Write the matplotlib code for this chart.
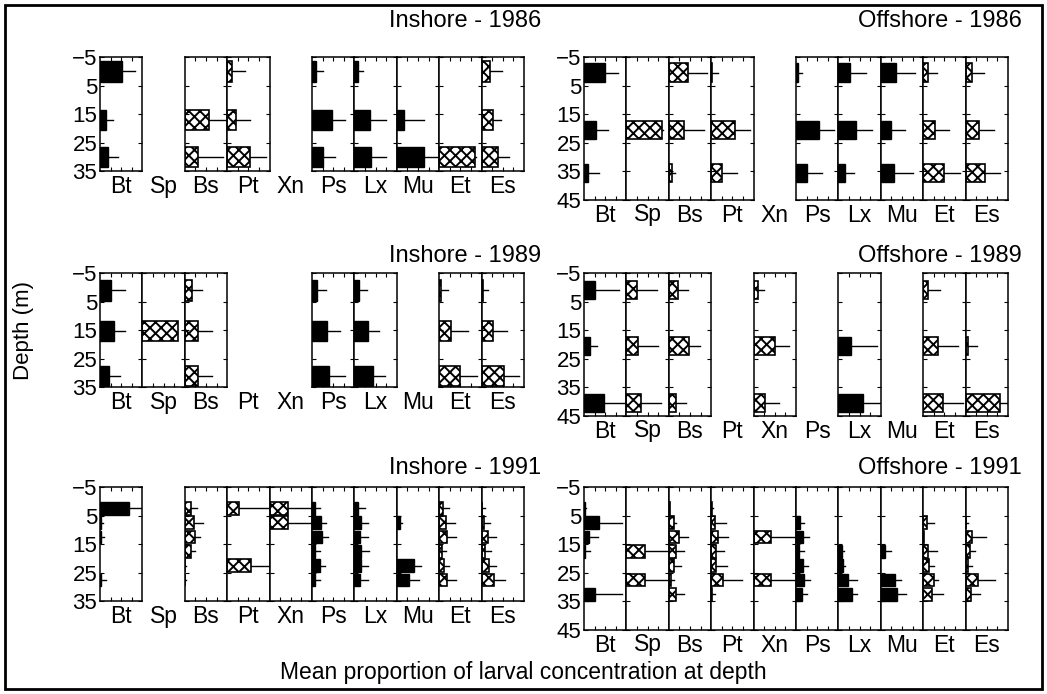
import matplotlib
matplotlib.use("Agg")
import matplotlib.pyplot as plt
from matplotlib.patches import Rectangle

plt.rcParams['font.family'] = ['Liberation Sans', 'DejaVu Sans']
plt.rcParams['hatch.linewidth'] = 1.4

species = ["Bt", "Sp", "Bs", "Pt", "Xn", "Ps", "Lx", "Mu", "Et", "Es"]
solid = ["Bt", "Ps", "Lx", "Mu"]

# ---- Inshore 1986 (None = species not caught, no panel)
in86_depth = [0, 17, 30]
in86_mean = [[0.51, 0.13, 0.18], None, [0, 0.58, 0.30], [0.12, 0.20, 0.53], None,
             [0.10, 0.46, 0.27], [0.08, 0.37, 0.39], [0, 0.17, 0.65], [0, 0, 0.84],
             [0.20, 0.28, 0.38]]
in86_upper = [[0.82, 0.30, 0.43], None, [0, 0.98, 0.91], [0.41, 0.53, 0.91], None,
              [0.27, 0.77, 0.54], [0.20, 0.75, 0.74], [0, 0.63, 0.97], [0, 0, 0.86],
              [0.47, 0.45, 0.65]]

# ---- Offshore 1986
off86_depth = [0.5, 20.5, 35.5]
off86_mean = [[0.49, 0.28, 0.10], [0, 0.84, 0], [0.45, 0.37, 0.07], [0.03, 0.56, 0.25], None,
              [0.04, 0.54, 0.27], [0.28, 0.41, 0.16], [0.35, 0.23, 0.31], [0.12, 0.27, 0.50],
              [0.14, 0.31, 0.45]]
off86_upper = [[0.80, 0.57, 0.36], [0, 0.86, 0], [0.91, 0.82, 0.15], [0.17, 0.91, 0.62], None,
               [0.15, 0.89, 0.62], [0.65, 0.79, 0.36], [0.80, 0.56, 0.77], [0.33, 0.62, 0.86],
               [0.43, 0.66, 0.82]]

# ---- Inshore 1989
in89_depth = [1, 15.3, 31]
in89_mean = [[0.26, 0.33, 0.21], [0, 0.83, 0], [0.17, 0.32, 0.32], None, None,
             [0.11, 0.35, 0.39], [0.10, 0.32, 0.43], None, [0.05, 0.29, 0.48],
             [0.03, 0.26, 0.53]]
in89_upper = [[0.60, 0.60, 0.47], [0, 0.85, 0], [0.40, 0.65, 0.63], None, None,
              [0.34, 0.65, 0.78], [0.29, 0.57, 0.72], None, [0.21, 0.67, 0.88],
              [0.14, 0.59, 0.88]]

# ---- Offshore 1989
off89_depth = [1, 20.5, 40.5]
off89_mean = [[0.26, 0.13, 0.47], [0.26, 0.28, 0.35], [0.22, 0.48, 0.16], None,
              [0.10, 0.50, 0.26], None, [0, 0.30, 0.59], None, [0.12, 0.35, 0.46],
              [0, 0.06, 0.81]]
off89_upper = [[0.83, 0.31, 0.98], [0.72, 0.75, 0.82], [0.45, 0.74, 0.41], None,
               [0.24, 0.83, 0.59], None, [0, 0.92, 0.99], None, [0.40, 0.81, 0.95],
               [0, 0.26, 0.98]]

# ---- Inshore 1991 (5 m strata)
in91_depth = [2.5, 7.5, 12.5, 17.5, 22.5, 27.5]
in91_mean = [[0.68, 0.02, 0.03, 0, 0, 0.03], None,
             [0.15, 0.22, 0.23, 0.14, 0.01, 0.01],
             [0.29, 0, 0, 0, 0.56, 0],
             [0.43, 0.43, 0, 0, 0, 0],
             [0.07, 0.22, 0.24, 0.06, 0.20, 0.08],
             [0.09, 0.16, 0.14, 0.16, 0.16, 0.14],
             [0, 0.07, 0, 0, 0.40, 0.29],
             [0.08, 0.16, 0.18, 0.06, 0.12, 0.18],
             [0.02, 0.06, 0.16, 0.08, 0.17, 0.30]]
in91_upper = [[0.98, 0.08, 0.10, 0, 0, 0.15], None,
              [0.29, 0.42, 0.37, 0.23, 0.03, 0.03],
              [0.98, 0, 0, 0, 0.98, 0],
              [0.99, 0.99, 0, 0, 0, 0],
              [0.18, 0.34, 0.38, 0.18, 0.31, 0.18],
              [0.26, 0.33, 0.31, 0.34, 0.32, 0.31],
              [0, 0.12, 0, 0, 0.56, 0.52],
              [0.22, 0.38, 0.40, 0.16, 0.23, 0.39],
              [0.08, 0.20, 0.35, 0.23, 0.34, 0.55]]

# ---- Offshore 1991
off91_depth = [2.5, 7.5, 12.5, 17.5, 22.5, 27.5, 32.5]
off91_mean = [[0.02, 0.35, 0.12, 0.02, 0, 0, 0.27],
              [0, 0, 0, 0.43, 0, 0.43, 0],
              [0.02, 0.12, 0.25, 0.17, 0.12, 0.05, 0.17],
              [0.02, 0.10, 0.17, 0.12, 0.12, 0.27, 0.02],
              [0, 0, 0.42, 0, 0, 0.42, 0],
              [0, 0.10, 0.16, 0.08, 0.16, 0.18, 0.14],
              [0, 0, 0, 0.08, 0.10, 0.22, 0.31],
              [0, 0, 0, 0.09, 0, 0.33, 0.39],
              [0, 0.08, 0.01, 0.11, 0.13, 0.25, 0.21],
              [0, 0.02, 0.16, 0.10, 0.06, 0.30, 0.12]]
off91_upper = [[0.05, 0.90, 0.33, 0.15, 0, 0, 0.90],
               [0, 0, 0, 1.0, 0, 1.0, 0],
               [0.04, 0.18, 0.45, 0.36, 0.28, 0.12, 0.36],
               [0.04, 0.34, 0.39, 0.31, 0.38, 0.72, 0.08],
               [0, 0, 1.0, 0, 0, 1.0, 0],
               [0, 0.20, 0.30, 0.18, 0.28, 0.34, 0.26],
               [0, 0, 0, 0.14, 0.16, 0.43, 0.45],
               [0, 0, 0, 0.23, 0, 0.47, 0.60],
               [0, 0.25, 0.03, 0.33, 0.25, 0.36, 0.47],
               [0, 0.05, 0.49, 0.22, 0.14, 0.69, 0.35]]

W, H = 1047, 694
fig = plt.figure(figsize=(W / 100, H / 100), dpi=100)


def draw_group(x0, top, ymax, depth, means, uppers, bar_h, title, title_x, title_y):
    col_w = 42.4
    ax_h = (ymax + 5) * 2.86
    for i, sp in enumerate(species):
        cx = x0 + (i + 0.5) * col_w
        fig.text(cx / W, 1 - (top + ax_h + 15) / H, sp, ha='center', va='center',
                 fontsize=16.5)
        if means[i] is None:
            continue
        ax = fig.add_axes([(x0 + i * col_w) / W, 1 - (top + ax_h) / H,
                           col_w / W, ax_h / H])
        for d, m, u in zip(depth, means[i], uppers[i]):
            if m <= 0:
                continue
            if sp in solid:
                ax.barh(d, m, height=bar_h, color='black', edgecolor='black', lw=1)
            else:
                ax.barh(d, m, height=bar_h, color='white', edgecolor='black',
                        hatch='xxx', lw=1.2)
            ax.plot([m, u], [d, d], color='black', lw=1)
        ax.set_xlim(0, 1)
        ax.set_ylim(ymax, -5)
        ax.set_yticks(range(-5, ymax + 1, 10))
        ax.set_xticks([0.25, 0.5, 0.75])
        ax.set_xticklabels([])
        ax.tick_params(direction='in', top=True, right=True, length=3, width=0.8,
                       labelsize=16, pad=2)
        if i > 0:
            ax.set_yticklabels([])
        for s in ax.spines.values():
            s.set_linewidth(1.1)
    fig.text(title_x / W, 1 - title_y / H, title, ha='right', va='center', fontsize=17)


draw_group(100, 57, 35, in86_depth, in86_mean, in86_upper, 7.2, "Inshore - 1986", 541, 21)
draw_group(584, 57, 45, off86_depth, off86_mean, off86_upper, 6.5, "Offshore - 1986", 1022, 21)
draw_group(100, 273, 35, in89_depth, in89_mean, in89_upper, 7.3, "Inshore - 1989", 541, 256)
draw_group(584, 273, 45, off89_depth, off89_mean, off89_upper, 6.5, "Offshore - 1989", 1022, 256)
draw_group(100, 487, 35, in91_depth, in91_mean, in91_upper, 4.4, "Inshore - 1991", 541, 468)
draw_group(584, 487, 45, off91_depth, off91_mean, off91_upper, 4.4, "Offshore - 1991", 1022, 468)

fig.text(24 / W, 1 - 330 / H, "Depth (m)", rotation=90, ha='center', va='center',
         fontsize=16)
fig.text(523 / W, 1 - 672 / H, "Mean proportion of larval concentration at depth",
         ha='center', va='center', fontsize=16.5)

fig.patches.append(Rectangle((5 / W, 5 / H), 1 - 10 / W, 1 - 10 / H, transform=fig.transFigure,
                             fill=False, edgecolor='black', lw=2))

fig.savefig("out.png", dpi=100)
